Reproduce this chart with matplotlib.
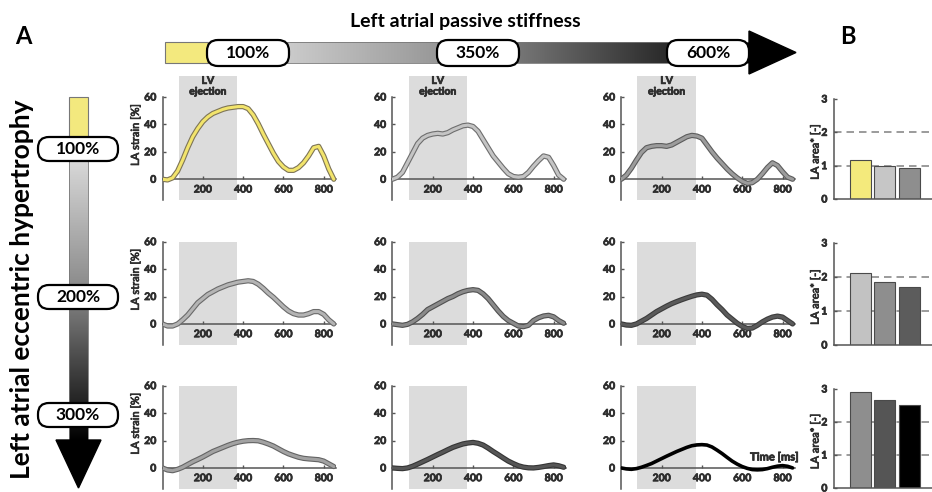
import numpy as np
import matplotlib
matplotlib.use("Agg")
import matplotlib.pyplot as plt
from matplotlib.patches import Rectangle, FancyBboxPatch, Polygon
from matplotlib.colors import LinearSegmentedColormap
import matplotlib.patheffects as pe

plt.rcParams['font.family'] = ['Lato', 'DejaVu Sans']
plt.rcParams['font.weight'] = 'bold'

# ---------------------------------------------------------------- data
time_ms = [0, 25, 50, 75, 100, 125, 150, 175, 200, 225, 250, 275, 300, 325, 350, 375,
           400, 425, 450, 475, 500, 525, 550, 575, 600, 625, 650, 675, 700, 725, 750,
           775, 800, 825, 850]

# LA strain [%]; rows = eccentric hypertrophy, columns = passive stiffness
ecc100_stiff100 = [0, -0.5, 1, 6, 14, 23, 31, 37, 42, 45.5, 48, 49.5, 51, 52, 52.5, 53,
                   53, 51.5, 47, 40.5, 33, 26, 19, 13, 9, 6.5, 6.5, 8.5, 12, 17, 23,
                   24, 17, 7.5, 0]
ecc100_stiff350 = [0, 1.5, 5, 12, 19, 26, 30, 32, 33, 33.5, 33, 34, 36, 37.5, 39, 39.5,
                   38.5, 35, 29, 23, 17, 12.5, 8, 4, 2, 1.5, 2, 5, 9.5, 13.5, 17,
                   16, 10, 3, 0]
ecc100_stiff600 = [0, 3, 8, 14, 19.5, 23, 24, 24.5, 24.5, 24, 25, 27, 29, 31, 32, 31.5,
                   30, 25, 20, 15.5, 11.5, 7.5, 4, 1, -1.5, -3, -2.5, 0, 4, 8.5, 12,
                   10, 5.5, 1.5, 0]

ecc200_stiff100 = [0, -1.5, -1.5, 0, 3, 6.5, 11, 15.5, 18.5, 21.5, 23.5, 25.5, 27, 28.5,
                   29.5, 30.5, 31, 31.5, 31, 29, 26, 22.5, 19.5, 16, 12.5, 9.5, 7.5,
                   6.5, 6.5, 7.5, 9, 9, 7, 3, 0]
ecc200_stiff350 = [0, -0.5, -1, -0.3, 1.5, 4, 7, 10.5, 12.5, 14.5, 16.5, 18.5, 20, 22,
                   23.5, 24.5, 25, 24.5, 22, 18.5, 14, 9.5, 5.5, 2.5, 0.5, -1.5, -2,
                   -1, 2.5, 4.5, 5.8, 6.3, 5.2, 2.5, 0.5]
ecc200_stiff600 = [0, -0.8, -1, 0, 2, 4, 6.5, 9, 11, 13, 14.8, 16.3, 17.7, 19, 20.2,
                   21.2, 21.7, 21, 18, 14, 10.5, 6.5, 3.5, 0.5, -1.8, -3.3, -3, -1,
                   1.5, 3.5, 5, 5.7, 5, 2.5, 0]

ecc300_stiff100 = [0, -1.5, -2, -1, 0.5, 2.5, 4.5, 6.2, 8, 10, 12, 13.5, 15, 16.5, 17.8,
                   18.8, 19.5, 19.9, 20, 19.8, 18.8, 17.5, 16, 14, 12, 10.3, 9, 7.8,
                   7, 6.6, 6.3, 6, 5, 3, 1]
ecc300_stiff350 = [0, -0.3, -0.5, 0, 1.2, 2.8, 4.5, 6.2, 8, 9.8, 11.5, 13.3, 15, 16.3,
                   17.5, 18.2, 18.6, 18, 16.7, 14.5, 12, 9.7, 7.3, 5, 3.2, 1.6, 0.6,
                   0.1, 0, 0.4, 1, 1.7, 2.2, 1.6, 0.5]
ecc300_stiff600 = [0, -0.7, -1, -0.5, 0.5, 1.8, 3.2, 5, 6.8, 8.6, 10.3, 12, 13.5, 15,
                   16.2, 16.8, 17, 16.7, 15.3, 13, 10.5, 7.7, 5, 2.8, 1, -0.3, -1.2,
                   -1.4, -1.2, -0.5, 0.5, 1.3, 1.7, 1.2, 0]

# normalised LA area [-] per hypertrophy level (stiffness 100/350/600 %)
area_ecc100 = [1.17, 0.99, 0.92]
area_ecc200 = [2.12, 1.85, 1.72]
area_ecc300 = [2.92, 2.67, 2.51]

stiffness_labels = ['100%', '350%', '600%']
hypertrophy_labels = ['100%', '200%', '300%']

ejection_window = (80, 370)   # ms

strain_grid = [[ecc100_stiff100, ecc100_stiff350, ecc100_stiff600],
               [ecc200_stiff100, ecc200_stiff350, ecc200_stiff600],
               [ecc300_stiff100, ecc300_stiff350, ecc300_stiff600]]
area_rows = [area_ecc100, area_ecc200, area_ecc300]

# ---------------------------------------------------------------- styling
line_fill = [['#f2e46c', '#c4c4c4', '#9c9c9c'],
             ['#b4b4b4', '#8a8a8a', '#5a5a5a'],
             ['#a2a2a2', '#565656', '#000000']]
line_edge = [['#7d7456', '#6e6e6e', '#5c5c5c'],
             ['#6a6a6a', '#505050', '#3c3c3c'],
             ['#646464', '#353535', '#000000']]
bar_fill = [['#f4ea7c', '#c6c6c6', '#8e8e8e'],
            ['#c2c2c2', '#8e8e8e', '#5c5c5c'],
            ['#8e8e8e', '#555555', '#000000']]

spine_col = '#555555'
label_col = '#2e2e2e'
# a hairline outline in the text colour gives small labels a heavier stroke
heavy = [pe.withStroke(linewidth=0.55, foreground=label_col)]

W, H = 932, 492
fig = plt.figure(figsize=(W / 100, H / 100), dpi=100)


def px_axes(left, top, width, height, **kw):
    return fig.add_axes([left / W, 1 - (top + height) / H, width / W, height / H], **kw)


def embolden(ax):
    for lab in ax.get_xticklabels() + ax.get_yticklabels():
        lab.set_fontweight('bold')
        lab.set_path_effects(heavy)


# ---------------------------------------------------------------- decorations (pixel coordinates)
deco = px_axes(0, 0, W, H)
deco.axis('off')

gray_ramp = LinearSegmentedColormap.from_list('ramp', ['#e6e6e6', '#8a8a8a', '#000000'])
ramp = np.linspace(0, 1, 256)

# horizontal stiffness arrow
deco.add_patch(Rectangle((165, 42), 43, 21, fc='#f3e97e', ec='#777777', lw=0.8))
deco.imshow(ramp[None, :], extent=(208, 750, 63, 42), cmap=gray_ramp,
            aspect='auto', interpolation='bilinear', zorder=1)
deco.add_patch(Rectangle((208, 42), 542, 21, fc='none', ec='#777777', lw=0.6, zorder=2))
deco.add_patch(Polygon([(749, 31), (796, 52.5), (749, 74)], closed=True,
                       fc='black', ec='black', zorder=2))
for cx, lab in zip([248, 478, 708], stiffness_labels):
    deco.add_patch(FancyBboxPatch((cx - 41, 40), 82, 26,
                                  boxstyle='round,pad=0,rounding_size=11',
                                  fc='white', ec='black', lw=1.6, zorder=3))
    deco.text(cx, 53.5, lab, ha='center', va='center', fontsize=12.5,
              fontweight='bold', zorder=4)

# vertical hypertrophy arrow
deco.add_patch(Rectangle((69, 97), 19, 40, fc='#f3e97e', ec='#777777', lw=0.8))
deco.imshow(ramp[:, None], extent=(69, 88, 441, 137), cmap=gray_ramp,
            aspect='auto', interpolation='bilinear', zorder=1)
deco.add_patch(Rectangle((69, 137), 19, 304, fc='none', ec='#777777', lw=0.6, zorder=2))
deco.add_patch(Polygon([(56, 440), (101, 440), (78.5, 488)], closed=True,
                       fc='black', ec='black', zorder=2))
for cy, lab in zip([149, 297, 415], hypertrophy_labels):
    deco.add_patch(FancyBboxPatch((38, cy - 12), 80, 24,
                                  boxstyle='round,pad=0,rounding_size=11',
                                  fc='white', ec='black', lw=1.6, zorder=3))
    deco.text(78, cy + 0.5, lab, ha='center', va='center', fontsize=12.5,
              fontweight='bold', zorder=4)

deco.text(465, 21, 'Left atrial passive stiffness', ha='center', va='center',
          fontsize=14, fontweight='bold')
deco.text(22, 289, 'Left atrial eccentric hypertrophy', ha='center', va='center',
          rotation=90, fontsize=19, fontweight='bold')
deco.text(23, 36, 'A', ha='center', va='center', fontsize=17, fontweight='bold')
deco.text(848, 36, 'B', ha='center', va='center', fontsize=17, fontweight='bold')
deco.set_xlim(0, W)
deco.set_ylim(H, 0)

# ---------------------------------------------------------------- strain panels
col_left = [162.5, 392.4, 621.3]
row_top = [97, 241.7, 385.7]
panel_w, panel_h = 173.3, 102.8

for r in range(3):
    for c in range(3):
        ax = px_axes(col_left[c], row_top[r], panel_w, panel_h)
        ax.patch.set_alpha(0)
        ax.set_xlim(0, 860)
        ax.set_ylim(-15, 60)
        for s in ('top', 'right'):
            ax.spines[s].set_visible(False)
        ax.spines['bottom'].set_position(('data', 0))
        for s in ('left', 'bottom'):
            ax.spines[s].set_color(spine_col)
            ax.spines[s].set_linewidth(1.1)
            ax.spines[s].set_zorder(2)
        ax.set_xticks([200, 400, 600, 800])
        ax.set_yticks([0, 20, 40, 60])
        ax.tick_params(direction='in', length=2.5, width=1, colors=spine_col,
                       labelcolor=label_col, labelsize=7.5)
        ax.tick_params(axis='x', pad=4.5)
        ax.tick_params(axis='y', pad=4.5)
        embolden(ax)

        shade_top = 75 if r == 0 else 60
        ax.add_patch(Rectangle((ejection_window[0], -15),
                               ejection_window[1] - ejection_window[0], shade_top + 15,
                               fc='#dcdcdc', ec='none', zorder=0, clip_on=False))
        if r == 0:
            ax.text(sum(ejection_window) / 2, 67.5, 'LV\nejection', ha='center',
                    va='center', fontsize=7.5, color=label_col, linespacing=1.25,
                    path_effects=heavy)

        vals = strain_grid[r][c]
        if r == 2 and c == 2:
            ax.plot(time_ms, vals, color='black', lw=2.6, solid_joinstyle='round',
                    solid_capstyle='round', zorder=3)
        else:
            ax.plot(time_ms, vals, color=line_fill[r][c], lw=2.2,
                    solid_joinstyle='round', solid_capstyle='round', zorder=3,
                    path_effects=[pe.Stroke(linewidth=3.8, foreground=line_edge[r][c]),
                                  pe.Normal()])
        if c == 0:
            ax.set_ylabel('LA strain [%]', fontsize=8, color=label_col,
                          path_effects=heavy)
            ax.yaxis.set_label_coords(-0.125, 0.63)
        if r == 2 and c == 2:
            ax.text(760, 8, 'Time [ms]', ha='center', va='center', fontsize=8,
                    color=label_col, path_effects=heavy)

# ---------------------------------------------------------------- LA area bars
bar_top = [99, 243, 389]
bar_h = [100, 102, 99]
positions = [1, 2, 3]
for r in range(3):
    ax = px_axes(834.3, bar_top[r], 97.7, bar_h[r])
    ax.patch.set_alpha(0)
    ax.set_xlim(-0.06, 3.93)
    ax.set_ylim(0, 3)
    for s in ('top', 'right'):
        ax.spines[s].set_visible(False)
    for s in ('left', 'bottom'):
        ax.spines[s].set_color(spine_col)
        ax.spines[s].set_linewidth(1.1)
    ax.set_xticks([])
    ax.set_yticks([0, 1, 2, 3])
    ax.tick_params(direction='in', length=2.5, width=1, colors=spine_col,
                   labelcolor=label_col, labelsize=7.5, pad=5)
    embolden(ax)
    for lvl in (1, 2):
        ax.axhline(lvl, color='#8a8a8a', lw=1.2, ls=(0, (4.5, 3)), zorder=0)
    ax.bar(positions, area_rows[r], width=0.86, color=bar_fill[r],
           edgecolor='#4a4a4a', linewidth=0.8, zorder=2)
    ax.set_ylabel('LA area* [-]', fontsize=8, color=label_col, path_effects=heavy)
    ax.yaxis.set_label_coords(-0.14, 0.47)

fig.savefig('out.png', dpi=100)
